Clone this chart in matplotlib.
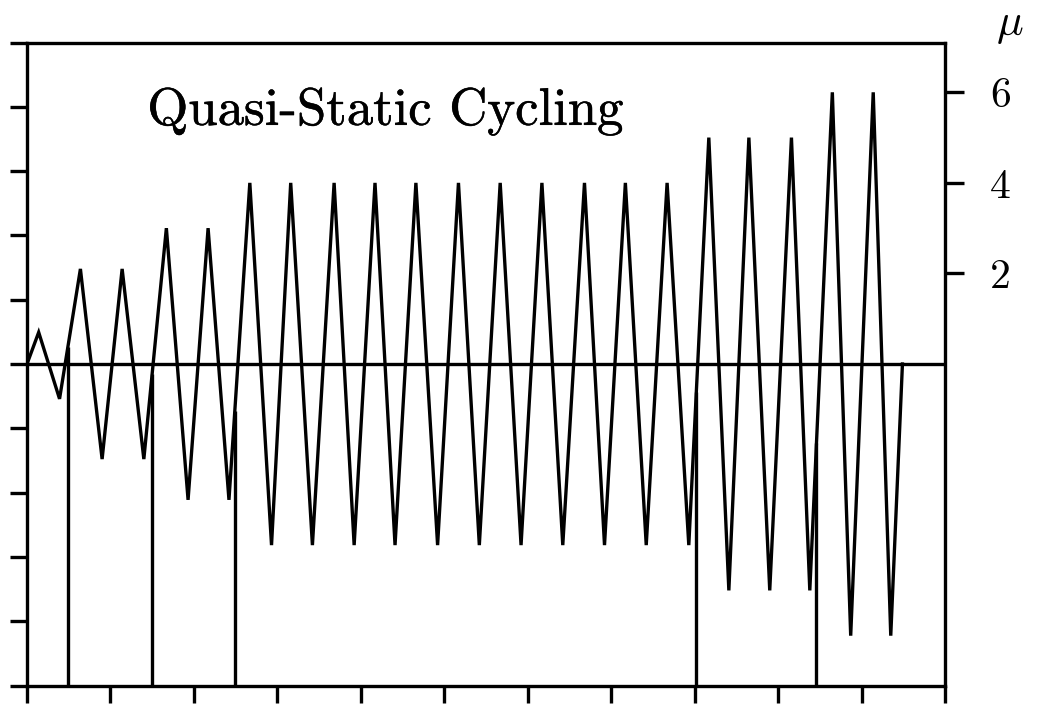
import numpy as np
import matplotlib
matplotlib.use("Agg")
import matplotlib.pyplot as plt
import matplotlib.patheffects as pe

plt.rcParams['mathtext.fontset'] = 'cm'
plt.rcParams['axes.unicode_minus'] = False

# cycle path: turning points (cycle axis, mu)
cycle_x = [0.00, 0.14, 0.39, 0.64, 0.90, 1.14, 1.40, 1.67, 1.93, 2.17,
           2.42, 2.67, 2.93, 3.16, 3.42, 3.68, 3.92, 4.17, 4.41, 4.66,
           4.92, 5.17, 5.42, 5.67, 5.92, 6.17, 6.42, 6.68, 6.92, 7.17,
           7.42, 7.67, 7.93, 8.17, 8.41, 8.65, 8.90, 9.16, 9.38, 9.65,
           9.87, 10.14, 10.35, 10.49]
mu = [0.0, 0.7, -0.77, 2.1, -2.1, 2.1, -2.1, 3.0, -3.0, 3.0,
      -3.0, 4.0, -4.0, 4.0, -4.0, 4.0, -4.0, 4.0, -4.0, 4.0,
      -4.0, 4.0, -4.0, 4.0, -4.0, 4.0, -4.0, 4.0, -4.0, 4.0,
      -4.0, 4.0, -4.0, 5.0, -5.0, 5.0, -5.0, 5.0, -5.0, 6.0,
      -6.0, 6.0, -6.0, 0.0]

# where the amplitude is stepped up
step_x = [0.49, 1.50, 2.49, 8.02, 9.46]

mu_ticks = [2, 4, 6]
LW = 2.4
BLACK = "#000000"
ink = [pe.withStroke(linewidth=0.35, foreground=BLACK)]

fig = plt.figure(figsize=(10.37, 7.19), dpi=100)
ax = fig.add_axes([27 / 1037, 33.5 / 719, 918 / 1037, 643 / 719])
ax.set_xlim(0, 11)
ax.set_ylim(-5, 5)
ax.set_xticks(np.arange(0, 12))
ax.set_yticks(np.arange(-5, 6))
ax.tick_params(axis='both', direction='out', length=12, width=LW,
               labelbottom=False, labelleft=False, color=BLACK)
for s in ax.spines.values():
    s.set_linewidth(LW)
    s.set_color(BLACK)

ax2 = ax.twinx()
ax2.set_ylim(-7.1, 7.1)
ax2.set_yticks(mu_ticks)
ax2.set_yticklabels([str(t) for t in mu_ticks], fontfamily='cmr10', fontsize=30)
ax2.tick_params(axis='y', direction='out', length=13.5, width=LW, pad=19,
                color=BLACK, labelcolor=BLACK)
for s in ax2.spines.values():
    s.set_visible(False)

ax2.axhline(0, color=BLACK, lw=LW)
ax2.plot(cycle_x, mu, color=BLACK, lw=LW, solid_joinstyle='miter')

# drops from the rising branch down to the floor
tops = np.interp(step_x, cycle_x, mu)
ax2.vlines(step_x, ax2.get_ylim()[0], tops, color=BLACK, lw=LW)

ax.text(0.131, 0.872, "Quasi-Static Cycling", transform=ax.transAxes,
        fontfamily='cmr10', fontsize=38, va='baseline', ha='left', color=BLACK,
        path_effects=ink)
fig.text(1010 / 1037, 1 - 24 / 719, r"$\mu$", fontsize=32, ha='center', va='center',
         color=BLACK)

fig.savefig("out.png", dpi=100, facecolor='white')
